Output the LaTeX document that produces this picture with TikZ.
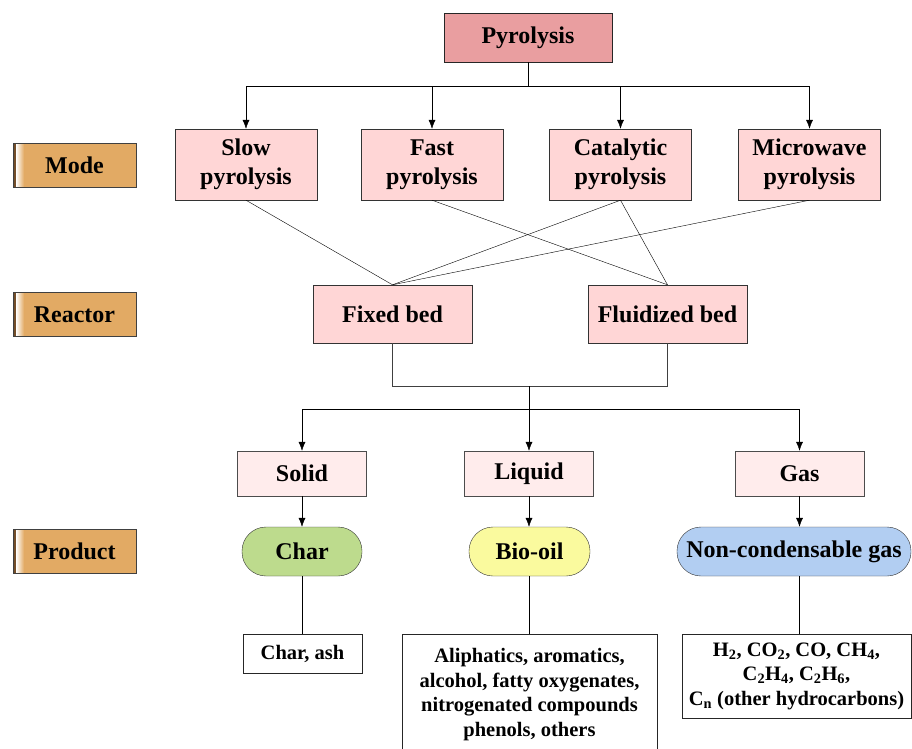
\documentclass[tikz,border=0pt]{standalone}
\usepackage{fontspec}
\setmainfont{Liberation Serif}
\usepackage{xcolor}
\usepackage{tikz}
\usetikzlibrary{arrows.meta, positioning}

\definecolor{pyrored}{RGB}{233,158,160}
\definecolor{modepink}{RGB}{255,214,214}
\definecolor{prodpink}{RGB}{255,236,236}
\definecolor{chargreen}{RGB}{189,219,141}
\definecolor{oilyellow}{RGB}{250,250,158}
\definecolor{gasblue}{RGB}{178,206,242}
\definecolor{labelorange}{RGB}{226,170,100}

\begin{document}
\begin{tikzpicture}[x=1pt, y=-1pt, >={Latex[length=9pt,width=7pt]},
    bigfont/.style={font=\fontsize{24}{29}\selectfont\bfseries},
    smallfont/.style={font=\fontsize{20.5}{24.5}\selectfont\bfseries},
    modebox/.style={draw=black!80, fill=modepink, minimum width=142pt, minimum height=71pt, inner sep=0pt, align=center, bigfont},
    reactbox/.style={modebox, minimum width=159pt, minimum height=58pt},
    phasebox/.style={draw=black!70, fill=prodpink, minimum width=129pt, minimum height=45pt, inner sep=0pt, bigfont},
    prodpill/.style={draw=black!80, rounded corners=24pt, minimum height=49pt, inner sep=0pt, bigfont},
    listbox/.style={draw=black!85, fill=white, inner sep=0pt, align=center, smallfont},
    sidelabel/.style={draw=black!75, fill=labelorange, minimum width=123pt, minimum height=44pt, inner sep=0pt, bigfont,
        path picture={
            \shade[left color=brown!60!black, right color=white]
                (path picture bounding box.north west) rectangle ([xshift=3pt]path picture bounding box.south west);
            \shade[left color=white, right color=labelorange]
                ([xshift=3pt]path picture bounding box.north west) rectangle ([xshift=11pt]path picture bounding box.south west);
        }}]
    \useasboundingbox (0,0) rectangle (912,748);

    % Top box
    \node[draw=black!85, fill=pyrored, minimum width=168pt, minimum height=49pt, inner sep=0pt, bigfont] (pyro) at (528,37.5) {Pyrolysis};

    % Side labels
    \node[sidelabel] (lmode) at (74.5,165) {Mode};
    \node[sidelabel] (lreact) at (74.5,314.5) {Reactor};
    \node[sidelabel] (lprod) at (74.5,551) {Product};

    % Pyrolysis modes
    \node[modebox] (slow) at (246,164.5) {Slow\\pyrolysis};
    \node[modebox] (fast) at (432,164.5) {Fast\\pyrolysis};
    \node[modebox] (cata) at (620.5,164.5) {Catalytic\\pyrolysis};
    \node[modebox] (micro) at (809.5,164.5) {Microwave\\pyrolysis};

    % Reactors
    \node[reactbox] (fixed) at (392.5,314) {Fixed bed};
    \node[reactbox] (fluid) at (667.5,314) {Fluidized bed};

    % Product phases
    \node[phasebox] (solid) at (302,473.5) {Solid};
    \node[phasebox] (liquid) at (529,473.5) {Liquid};
    \node[phasebox] (gas) at (799.5,473.5) {Gas};

    \node[prodpill, fill=chargreen, minimum width=120pt] (char) at (302,551.5) {Char};
    \node[prodpill, fill=oilyellow, minimum width=121pt] (oil) at (529.5,551.5) {Bio-oil};
    \node[prodpill, fill=gasblue, minimum width=234pt] (ncgas) at (794,551.5) {Non-condensable gas};

    % Compositions
    \node[listbox, minimum width=119pt, minimum height=39pt] (charlist) at (302.5,653.5) {Char, ash};
    \node[listbox, minimum width=255pt, minimum height=121pt] (oillist) at (529.5,694.5)
        {Aliphatics, aromatics,\\alcohol, fatty oxygenates,\\nitrogenated compounds\\phenols, others};
    \node[listbox, minimum width=229pt, minimum height=84pt] (gaslist) at (796.5,676)
        {H\textsubscript{2}, CO\textsubscript{2}, CO, CH\textsubscript{4},\\C\textsubscript{2}H\textsubscript{4}, C\textsubscript{2}H\textsubscript{6},\\C\textsubscript{n} (other hydrocarbons)};

    % Pyrolysis to modes
    \foreach \m in {slow, fast, cata, micro}
        \draw[->] (pyro.south) -- ++(0,24) -| (\m.north);

    % Modes to reactors
    \draw (slow.south) -- (fixed.north);
    \draw (fast.south) -- (fluid.north);
    \draw (cata.south) -- (fixed.north);
    \draw (cata.south) -- (fluid.north);
    \draw (micro.south) -- (fixed.north);

    % Reactors to phases
    \draw[black!75] (fixed.south) -- ++(0,43) coordinate (joinl) -| (fluid.south);
    \coordinate (join) at (529,386);
    \coordinate (branch) at (529,409);
    \draw[->] (join) -- (liquid.north);
    \draw[->] (branch) -| (solid.north);
    \draw[->] (branch) -| (gas.north);

    % Phases to products
    \draw[->] (solid.south) -- (char.north);
    \draw[->] (liquid.south) -- (oil.north -| liquid);
    \draw[->] (gas.south) -- (ncgas.north -| gas);
    \draw (char.south) -- (charlist.north -| char);
    \draw (oil.south -| liquid) -- (oillist.north -| liquid);
    \draw (ncgas.south -| gas) -- (gaslist.north -| gas);
\end{tikzpicture}
\end{document}
